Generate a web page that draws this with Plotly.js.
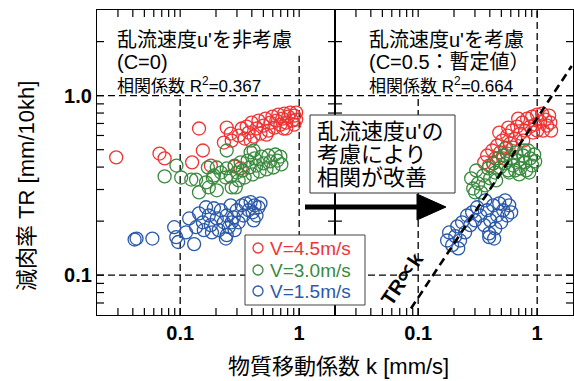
<!DOCTYPE html>
<html>
<head>
<meta charset="utf-8">
<script src="https://cdn.plot.ly/plotly-3.0.1.min.js"></script>
<style>html,body{margin:0;padding:0;background:#fff;}</style>
</head>
<body>
<div id="chart" style="width:574px;height:381px;"></div>
<script>
// ---- data: left panel (u' not considered, C=0) ----
const kLeft45  = [0.029,0.067,0.074,0.144,0.155,0.126,0.181,0.246,0.266,0.233,0.271,0.287,0.322,0.31,0.329,0.348,0.362,0.376,0.398,0.414,0.438,0.455,0.473,0.501,0.521,0.552,0.573,0.596,0.619,0.643,0.668,0.695,0.722,0.75,0.779,0.81,0.841,0.874,0.908,0.944,0.944,0.736,0.531,0.391,0.779,0.908];
const trLeft45 = [0.453,0.476,0.447,0.656,0.495,0.425,0.408,0.664,0.615,0.548,0.562,0.403,0.393,0.599,0.656,0.577,0.673,0.623,0.708,0.592,0.656,0.726,0.615,0.681,0.745,0.639,0.708,0.764,0.664,0.726,0.784,0.69,0.745,0.794,0.708,0.764,0.805,0.726,0.774,0.736,0.805,0.656,0.607,0.562,0.656,0.69];
const kLeft30  = [0.093,0.074,0.102,0.124,0.136,0.144,0.171,0.174,0.188,0.165,0.192,0.203,0.271,0.293,0.242,0.414,0.391,0.246,0.266,0.287,0.299,0.322,0.335,0.348,0.369,0.383,0.406,0.422,0.438,0.464,0.483,0.501,0.531,0.552,0.573,0.607,0.631,0.656,0.695,0.708,0.22,0.31,0.246,0.203];
const trLeft30 = [0.408,0.355,0.35,0.341,0.341,0.289,0.398,0.308,0.35,0.329,0.359,0.297,0.308,0.308,0.35,0.495,0.483,0.393,0.355,0.408,0.373,0.425,0.383,0.35,0.435,0.398,0.364,0.447,0.408,0.378,0.458,0.419,0.388,0.464,0.43,0.398,0.47,0.435,0.458,0.414,0.373,0.337,0.495,0.398];
const kLeft15  = [0.043,0.0414,0.0584,0.0891,0.0926,0.0962,0.119,0.131,0.112,0.136,0.155,0.165,0.144,0.174,0.181,0.192,0.203,0.211,0.22,0.233,0.246,0.246,0.256,0.266,0.282,0.287,0.299,0.31,0.329,0.341,0.355,0.376,0.391,0.406,0.422,0.438,0.455,0.473,0.242,0.271,0.185,0.414,0.158];
const trLeft15 = [0.16,0.158,0.16,0.185,0.163,0.153,0.207,0.149,0.173,0.185,0.197,0.239,0.221,0.215,0.19,0.236,0.207,0.178,0.23,0.197,0.167,0.215,0.185,0.245,0.21,0.178,0.23,0.197,0.245,0.215,0.251,0.23,0.255,0.224,0.245,0.215,0.239,0.251,0.16,0.197,0.173,0.202,0.178];

// ---- data: right panel (u' considered, C=0.5) ----
const kRight45  = [0.359,0.38,0.395,0.419,0.444,0.461,0.489,0.508,0.538,0.56,0.593,0.617,0.653,0.679,0.72,0.748,0.793,0.824,0.873,0.908,0.962,1.0,1.06,1.1,1.17,1.21,1.26,1.29,1.12,0.925,0.763,0.629,0.518,0.427,0.571,0.692,0.48,1.31,1.0];
const trRight45 = [0.425,0.464,0.408,0.495,0.447,0.527,0.483,0.562,0.508,0.599,0.541,0.639,0.577,0.673,0.615,0.708,0.639,0.745,0.673,0.764,0.69,0.784,0.717,0.794,0.736,0.681,0.774,0.708,0.639,0.623,0.562,0.514,0.447,0.419,0.664,0.745,0.623,0.639,0.639];
const kRight30  = [0.279,0.29,0.307,0.319,0.338,0.352,0.366,0.388,0.403,0.427,0.444,0.47,0.489,0.518,0.538,0.571,0.605,0.629,0.667,0.692,0.72,0.763,0.793,0.84,0.873,0.908,0.944,0.962,0.653,0.809,0.56,0.301,0.452,0.549,0.582,0.706,0.857,0.778];
const trRight30 = [0.346,0.304,0.383,0.325,0.289,0.359,0.316,0.393,0.346,0.419,0.373,0.447,0.398,0.464,0.419,0.383,0.447,0.408,0.483,0.435,0.393,0.464,0.425,0.495,0.447,0.408,0.47,0.43,0.383,0.383,0.476,0.289,0.337,0.514,0.373,0.364,0.373,0.495];
const kRight15  = [0.175,0.182,0.193,0.205,0.213,0.225,0.234,0.248,0.258,0.274,0.284,0.301,0.313,0.332,0.359,0.38,0.395,0.403,0.427,0.444,0.461,0.48,0.498,0.518,0.538,0.56,0.582,0.605,0.395,0.435,0.366,0.217];
const trRight15 = [0.156,0.173,0.147,0.165,0.187,0.156,0.197,0.173,0.215,0.19,0.224,0.202,0.239,0.215,0.19,0.23,0.171,0.202,0.245,0.182,0.215,0.251,0.197,0.23,0.261,0.215,0.245,0.224,0.163,0.16,0.261,0.141];

// reference line TR ∝ k
const refK = [0.087, 1.95];
const refCoef = 0.75;

// labels and ticks
const seriesNames = ['V=4.5m/s', 'V=3.0m/s', 'V=1.5m/s'];
const seriesColors = ['#ef3434', '#3a8a3f', '#2a59aa'];
const xLabelVals = [0.1, 1];
const xLabelText = ['0.1', '1'];
const yLabelVals = [0.1, 1];
const yLabelText = ['0.1', '1.0'];
const xTickMarks = [0.03,0.04,0.05,0.06,0.07,0.08,0.09,0.1,0.2,0.3,0.4,0.5,0.6,0.7,0.8,0.9,1];
const yTickMarks = [0.07,0.08,0.09,0.1,0.2,0.3,0.4,0.5,0.6,0.7,0.8,0.9,1,2];
const xRange = [0.02, 2];
const yRange = [0.06, 3];

const FONT = 'Liberation Sans, Arial, Noto Sans CJK JP, sans-serif';
const L = Math.log10;

// pixel -> paper helpers (for decorations only)
const PL = 97, PR = 573, PT = 10, PB = 315;
const W = PR - PL, H = PB - PT;
const px = s => (s - PL) / W;
const py = s => (PB - s) / H;
// tick length of 7 px, as a multiplicative factor along each log axis
const TL = 7;
const xDec = (W / 2) / (L(xRange[1]) - L(xRange[0]));
const yDec = H / (L(yRange[1]) - L(yRange[0]));
const fx = Math.pow(10, TL / xDec);
const fy = Math.pow(10, TL / yDec);

// tick-mark trace (inside ticks on all four sides of a panel)
function tickTrace(xa, ya) {
  const x = [], y = [];
  xTickMarks.forEach(v => {
    x.push(v, v, null); y.push(yRange[0], yRange[0]*fy, null);
    x.push(v, v, null); y.push(yRange[1], yRange[1]/fy, null);
  });
  yTickMarks.forEach(v => {
    x.push(xRange[0], xRange[0]*fx, null); y.push(v, v, null);
    x.push(xRange[1], xRange[1]/fx, null); y.push(v, v, null);
  });
  return {type:'scatter', mode:'lines', x:x, y:y, xaxis:xa, yaxis:ya, showlegend:false, hoverinfo:'skip',
    connectgaps:false, line:{color:'#000', width:1.2}};
}

function sc(x, y, c, xa, ya) {
  return {type:'scatter', mode:'markers', x:x, y:y, xaxis:xa, yaxis:ya, showlegend:false, hoverinfo:'skip',
    marker:{symbol:'circle-open', size:13, color:c, line:{width:1.3, color:c}}};
}
const traces = [
  tickTrace('x', 'y'),
  tickTrace('x2', 'y2'),
  sc(kLeft45, trLeft45, seriesColors[0], 'x', 'y'),
  sc(kLeft30, trLeft30, seriesColors[1], 'x', 'y'),
  sc(kLeft15, trLeft15, seriesColors[2], 'x', 'y'),
  sc(kRight45, trRight45, seriesColors[0], 'x2', 'y2'),
  sc(kRight30, trRight30, seriesColors[1], 'x2', 'y2'),
  sc(kRight15, trRight15, seriesColors[2], 'x2', 'y2'),
  {type:'scatter', mode:'lines', x:refK, y:refK.map(v => v*refCoef), xaxis:'x2', yaxis:'y2',
   showlegend:false, hoverinfo:'skip', line:{color:'#000', width:2.6, dash:'8px,5px'}}
];

function xAx(domain, anchor) {
  return {domain:domain, anchor:anchor, type:'log', range:[L(xRange[0]), L(xRange[1])],
    tickmode:'array', tickvals:xLabelVals, ticktext:xLabelText.map(t => '<b>'+t+'</b>'),
    ticks:'',
    showline:true, linecolor:'#000', linewidth:1.3, mirror:true, showgrid:false, zeroline:false,
    tickfont:{family:FONT, size:20, color:'#000'}};
}
function yAx(anchor, labels) {
  return {domain:[0,1], anchor:anchor, type:'log', range:[L(yRange[0]), L(yRange[1])],
    tickmode:'array', tickvals:yLabelVals, ticktext:yLabelText.map(t => '<b>'+t+'</b>'),
    showticklabels:labels, ticks:'',
    showline:true, linecolor:'#000', linewidth:1.3, mirror:true, showgrid:false, zeroline:false,
    tickfont:{family:FONT, size:20, color:'#000'}};
}

const dashG = {color:'#000', width:1.3, dash:'7px,4px'};
function vline(xa, ya, xv, y0, y1) {
  return {type:'line', xref:xa, yref:ya, x0:xv, x1:xv, y0:y0, y1:y1, line:dashG, layer:'below'};
}
function hline(xa, ya, yv) {
  return {type:'line', xref:xa, yref:ya, x0:xRange[0], x1:xRange[1], y0:yv, y1:yv, line:dashG, layer:'below'};
}
const shapes = [
  vline('x','y',0.1, yRange[0], 1),
  vline('x','y',1, yRange[0], 1.67),
  hline('x','y',1), hline('x','y',0.1),
  vline('x2','y2',0.1, yRange[0], 1),
  vline('x2','y2',1, yRange[0], yRange[1]),
  hline('x2','y2',1), hline('x2','y2',0.1),
  // big arrow
  {type:'line', xref:'paper', yref:'paper', x0:px(305), x1:px(420), y0:py(207), y1:py(207), line:{color:'#000', width:5}, layer:'above'},
  {type:'path', xref:'paper', yref:'paper', layer:'above', fillcolor:'#000', line:{color:'#000', width:1},
   path:`M ${px(417)},${py(194)} L ${px(446)},${py(207)} L ${px(417)},${py(220)} Z`},
  // message box
  {type:'rect', xref:'paper', yref:'paper', x0:px(310), x1:px(455), y0:py(193), y1:py(115), fillcolor:'#fff', line:{color:'#333', width:1}, layer:'above'},
  // legend box
  {type:'rect', xref:'paper', yref:'paper', x0:px(245), x1:px(365), y0:py(305), y1:py(235), fillcolor:'#fff', line:{color:'#444', width:1}, layer:'above'}
];
// legend circles
const legRows = [248, 270, 291];
legRows.forEach((r, i) => {
  shapes.push({type:'circle', xref:'paper', yref:'paper', layer:'above', x0:px(253), x1:px(263), y0:py(r+5), y1:py(r-5),
    line:{color:seriesColors[i], width:1.3}, fillcolor:'rgba(0,0,0,0)'});
});

function A(text, sx, sy, size, opts) {
  return Object.assign({xref:'paper', yref:'paper', x:px(sx), y:py(sy), text:text, showarrow:false,
    xanchor:'left', yanchor:'middle', align:'left', font:{family:FONT, size:size, color:'#000'}}, opts || {});
}
const annotations = [
  A("乱流速度u'を非考慮", 115, 40, 20),
  A('(C=0)', 115, 62, 20),
  A('相関係数 R<sup>2</sup>=0.367', 115, 85, 17),
  A("乱流速度u'を考慮", 367, 40, 20),
  A('(C=0.5：暫定値）', 367, 62, 20),
  A('相関係数 R<sup>2</sup>=0.664', 367, 85, 17),
  A("乱流速度u'の", 315, 131, 22),
  A('考慮により', 315, 154, 22),
  A('相関が改善', 315, 177, 22),
  A('<b>TR∝k</b>', 402, 279, 20, {xanchor:'center', textangle:-56}),
  A('物質移動係数 k [mm/s]', 338, 366, 22, {xanchor:'center'}),
  A('減肉率 TR [mm/10kh]', 27, 186, 22, {xanchor:'center', textangle:-90})
];
seriesNames.forEach((n, i) => {
  annotations.push(A(n, 268, legRows[i], 19, {font:{family:FONT, size:19, color:seriesColors[i]}}));
});

const layout = {
  width:574, height:381,
  margin:{l:PL, r:574-PR, t:PT, b:381-PB, pad:0},
  paper_bgcolor:'#fff', plot_bgcolor:'#fff',
  showlegend:false,
  xaxis: xAx([0, 0.5], 'y'),
  yaxis: yAx('x', true),
  xaxis2: xAx([0.5, 1], 'y2'),
  yaxis2: yAx('x2', false),
  shapes: shapes,
  annotations: annotations,
  font:{family:FONT, color:'#000'}
};
Plotly.newPlot('chart', traces, layout, {displayModeBar:false});
</script>
</body>
</html>
